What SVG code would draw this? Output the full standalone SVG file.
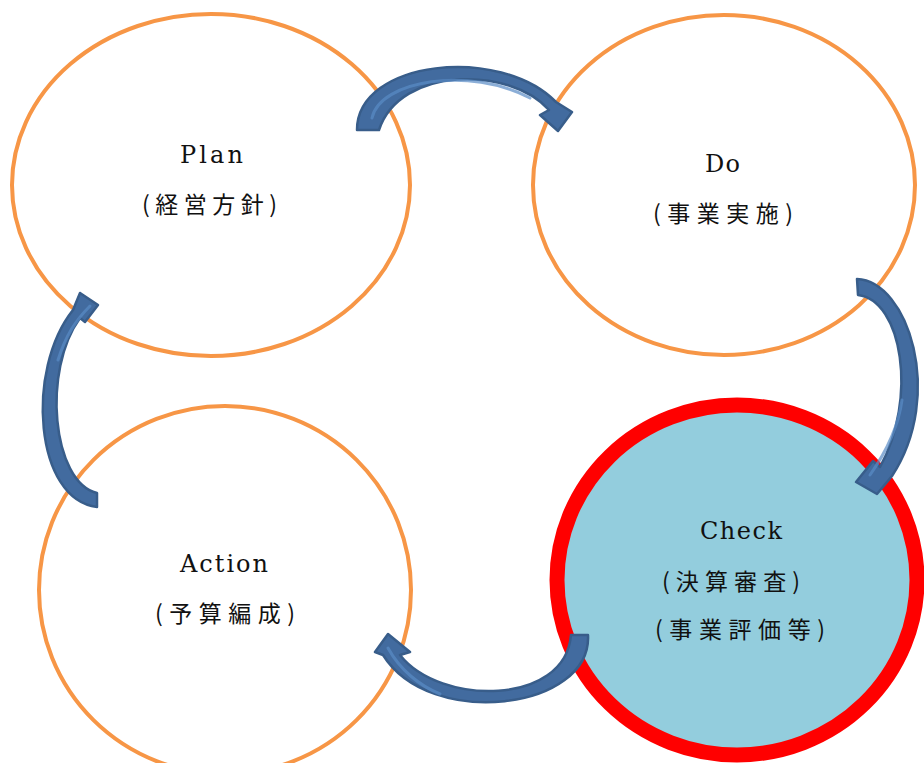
<svg xmlns="http://www.w3.org/2000/svg" width="924" height="763" viewBox="0 0 924 763">
<style>
.node{fill:#FFFFFF;stroke:#F79646;stroke-width:4}
.check{fill:#93CDDD;stroke:#FF0000;stroke-width:15}
.lat{font-family:"DejaVu Serif","Liberation Serif","Noto Sans CJK JP",serif;font-size:24px;fill:#111}
.jp{font-family:"Noto Sans CJK JP","Liberation Serif",sans-serif;font-size:23px;fill:#111}
.arrow{fill:#426B9F;stroke:#385D8A;stroke-width:2.5;stroke-linejoin:round}
.hl{fill:none;stroke:#5A8BC6;stroke-width:3;stroke-linecap:round;opacity:0.7}
</style>
<rect width="924" height="763" fill="#FFFFFF"/>
<g id="plan">
<ellipse class="node" cx="211" cy="185" rx="199" ry="171"/>
<text class="lat" x="180" y="163" textLength="63" lengthAdjust="spacing">Plan</text>
<text class="jp" x="142" y="213" textLength="135" lengthAdjust="spacing">(経営方針)</text>
</g>
<g id="do">
<ellipse class="node" cx="724" cy="185" rx="191" ry="170"/>
<text class="lat" x="705" y="172" textLength="35" lengthAdjust="spacing">Do</text>
<text class="jp" x="653" y="222" textLength="140" lengthAdjust="spacing">(事業実施)</text>
</g>
<g id="action">
<ellipse class="node" cx="225" cy="590" rx="186" ry="184"/>
<text class="lat" x="180" y="572" textLength="88" lengthAdjust="spacing">Action</text>
<text class="jp" x="155" y="622" textLength="140" lengthAdjust="spacing">(予算編成)</text>
</g>
<g id="check">
<ellipse class="check" cx="737" cy="580" rx="180" ry="175"/>
<text class="lat" x="700" y="539" textLength="82" lengthAdjust="spacing">Check</text>
<text class="jp" x="662" y="590" textLength="138" lengthAdjust="spacing">(決算審査)</text>
<text class="jp" x="655" y="638" textLength="170" lengthAdjust="spacing">(事業評価等)</text>
</g>
<g id="connectors">
<path class="arrow" d="M357,130 C357,60 500,45 556,102 L572,112 L558,131 L540,115 L549,110 C510,66 400,66 379,130 Z"/>
<path class="hl" d="M372,118 C380,80 470,66 530,98"/>
<path class="arrow" d="M857,279 C908,281 945,395 892,476 L877,494 L856,482 L873,461 L880,467 C918,398 902,300 858,295 Z"/>
<path class="hl" d="M902,400 C898,430 884,455 870,475"/>
<path class="arrow" d="M97,507 C35,500 25,370 73,310 L80,293 L98,305 L85,322 L80,318 C42,370 52,482 97,493 Z"/>
<path class="hl" d="M58,360 C66,335 76,320 90,306"/>
<path class="arrow" d="M588,635 C592,710 430,730 383,655 L375,652 L388,634 L410,652 L400,655 C440,706 565,706 571,635 Z"/>
<path class="hl" d="M388,648 C400,670 420,686 440,694"/>
</g>
</svg>
